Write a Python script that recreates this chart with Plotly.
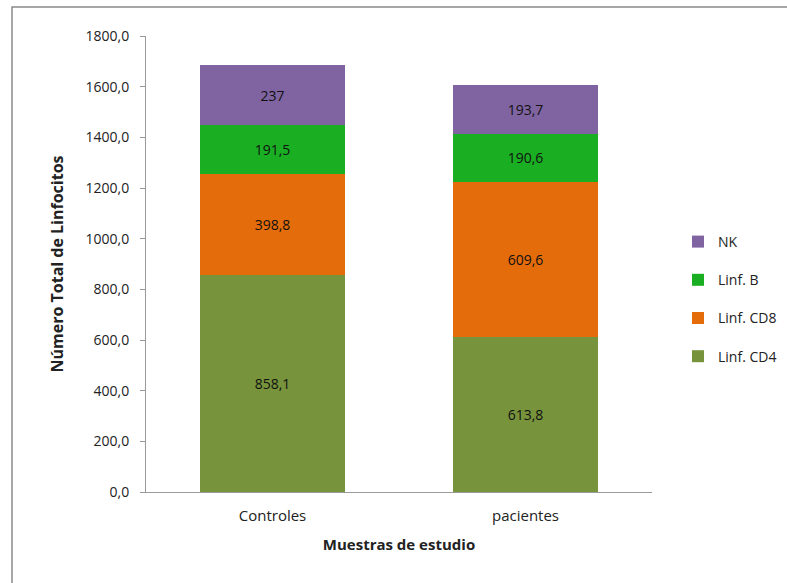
import plotly.graph_objects as go

categories = ["Controles", "pacientes"]
series_names = ["Linf. CD4", "Linf. CD8", "Linf. B", "NK"]
cd4 = [858.1, 613.8]
cd8 = [398.8, 609.6]
linf_b = [191.5, 190.6]
nk = [237, 193.7]
colors = ["#77933C", "#E46C0A", "#1AAF23", "#8064A2"]
y_ticks = [0, 200, 400, 600, 800, 1000, 1200, 1400, 1600, 1800]

FONT = "'Open Sans', sans-serif"

def fmt(v):
    return f"{v:g}".replace(".", ",")

fig = go.Figure()
for i, (name, vals, col) in enumerate(zip(series_names, [cd4, cd8, linf_b, nk], colors)):
    fig.add_trace(go.Bar(
        x=categories, y=vals, name=name, legendgroup=name,
        legendrank=len(series_names) - i,
        marker=dict(color=col, line=dict(width=0)),
        text=[fmt(v) for v in vals], textposition="inside",
        insidetextanchor="middle",
        textfont=dict(family=FONT, size=14, color="#111111"),
        width=0.572,
    ))

W, H = 787, 583
L, R, T, B = 146, 135, 36, 91
pw, ph = W - L - R, H - T - B

fig.update_layout(
    width=W, height=H,
    barmode="stack",
    separators=",.",
    paper_bgcolor="white", plot_bgcolor="white",
    margin=dict(l=L, r=R, t=T, b=B, autoexpand=False),
    font=dict(family=FONT, size=14, color="#222222"),
    legend=dict(
        traceorder="grouped", tracegroupgap=17,
        x=(678 - L) / pw, y=1 - (226 - T) / ph, xanchor="left", yanchor="top",
        font=dict(family=FONT, size=14, color="#222222"),
        itemwidth=30, bgcolor="rgba(0,0,0,0)",
    ),
    xaxis=dict(
        showline=True, linecolor="#9a9a9a", linewidth=1,
        ticks="", showgrid=False, ticklabelstandoff=10,
        tickfont=dict(family=FONT, size=15, color="#222222"),
        title=dict(text="<b>Muestras de estudio</b>", standoff=15,
                   font=dict(family=FONT, size=15, color="#222222")),
    ),
    yaxis=dict(
        range=[0, 1800], tickvals=y_ticks, tickformat=".1f",
        showline=True, linecolor="#9a9a9a", linewidth=1,
        ticks="outside", ticklen=5, tickcolor="#9a9a9a",
        showgrid=False, zeroline=False, ticklabelstandoff=8,
        tickfont=dict(family=FONT, size=14, color="#222222"),
        title=dict(text="<b>Número Total de Linfocitos</b>", standoff=17,
                   font=dict(family=FONT, size=16, color="#222222")),
    ),
    shapes=[dict(
        type="rect", xref="paper", yref="paper",
        x0=(12 - L) / pw, x1=(W + 20 - L) / pw,
        y0=1 - (H + 20 - T) / ph, y1=1 + (T - 7) / ph,
        line=dict(color="#8a8a8a", width=1.5), fillcolor="rgba(0,0,0,0)",
        layer="below",
    )],
)

fig.write_html("out.html")
